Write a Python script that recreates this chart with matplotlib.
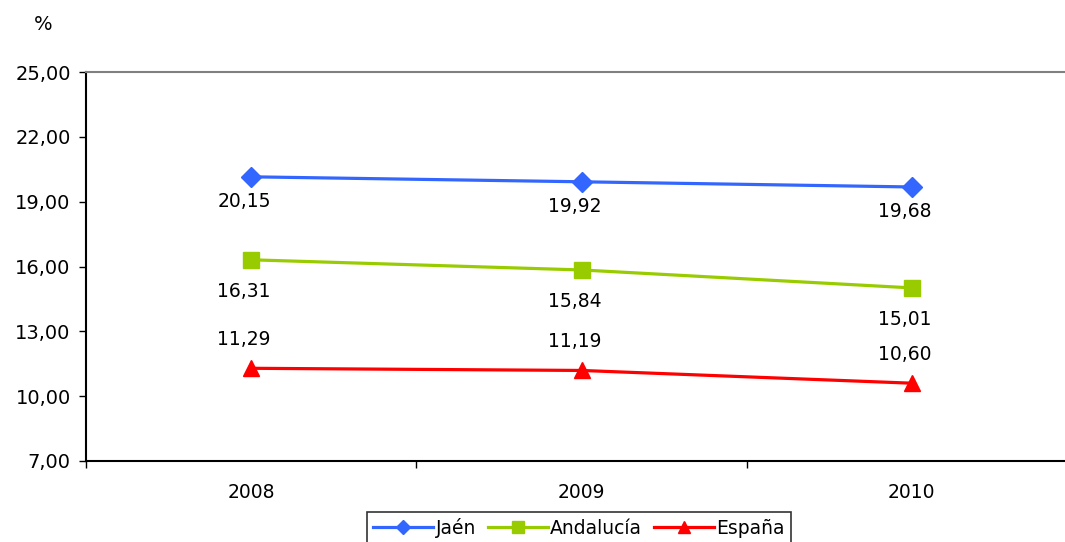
import matplotlib
matplotlib.use("Agg")
import matplotlib.pyplot as plt

years = ["2008", "2009", "2010"]
jaen = [20.15, 19.92, 19.68]
andalucia = [16.31, 15.84, 15.01]
espana = [11.29, 11.19, 10.60]
y_ticks = [7, 10, 13, 16, 19, 22, 25]


def fmt(v):
    return f"{v:.2f}".replace(".", ",")


fig = plt.figure(figsize=(10.65, 5.42), dpi=100)
ax = fig.add_axes([86 / 1065, 81 / 542, 991 / 1065, 389 / 542])

x = list(range(len(years)))
# name, values, colour, marker, marker size, label offset (points)
series = [
    ("Jaén", jaen, "#3366FF", "D", 10, -17.5),
    ("Andalucía", andalucia, "#99CC00", "s", 11, -23),
    ("España", espana, "#FF0000", "^", 12, 21),
]
for name, vals, color, marker, ms, off in series:
    ax.plot(x, vals, color=color, lw=2.3, marker=marker, markersize=ms, label=name)
    for xi, v in zip(x, vals):
        ax.annotate(fmt(v), (xi, v), xytext=(-5, off), textcoords="offset points",
                    ha="center", va="center", fontsize=13.5)

ax.set_xlim(-0.5, len(years) - 0.5)
ax.set_ylim(7, 25)
ax.set_xticks([i - 0.5 for i in range(len(years) + 1)])
ax.set_xticklabels([])
ax.set_xticks(x, minor=True)
ax.set_xticklabels(years, minor=True, fontsize=13.5)
ax.tick_params(axis="x", which="minor", length=0, pad=16)
ax.tick_params(axis="x", which="major", length=5, width=1, direction="out")
ax.set_yticks(y_ticks)
ax.set_yticklabels([fmt(v) for v in y_ticks], fontsize=14)
ax.tick_params(axis="y", length=5, width=1, direction="out", pad=6)

ax.spines["top"].set_color("#808080")
ax.spines["top"].set_linewidth(1.5)
ax.spines["right"].set_visible(False)
ax.spines["left"].set_linewidth(1.5)
ax.spines["bottom"].set_linewidth(1.5)

fig.text(43 / 1065, 1 - 25 / 542, "%", ha="center", va="center", fontsize=14)

leg = fig.legend(loc="upper center", bbox_to_anchor=(579 / 1065, 1 - 512 / 542),
                 ncol=3, frameon=True, fancybox=False, fontsize=13.5,
                 handlelength=3.2, columnspacing=0.6, handletextpad=0.15,
                 borderpad=0.3, borderaxespad=0, markerscale=0.75)
leg.get_frame().set_edgecolor("black")
leg.get_frame().set_linewidth(1.2)

fig.savefig("out.png", dpi=100)
